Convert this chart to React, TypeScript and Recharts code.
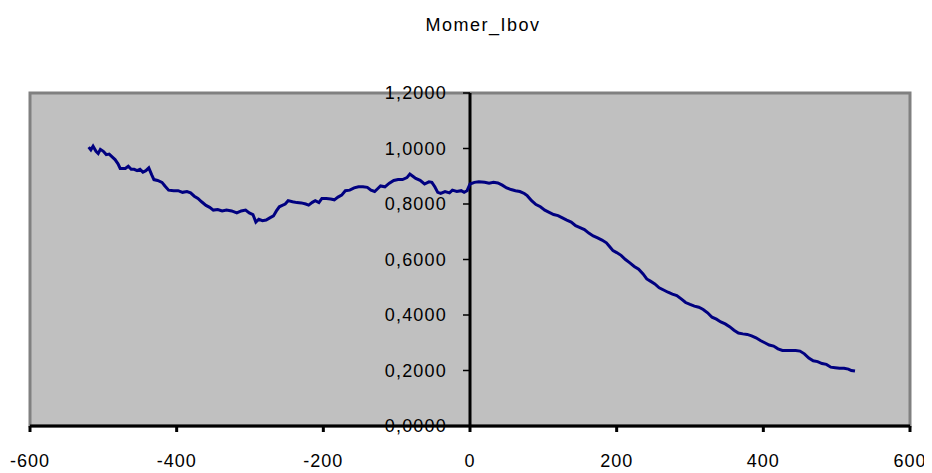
import { LineChart, Line, XAxis, YAxis, ReferenceArea, ReferenceLine } from "recharts";

const title = "Momer_Ibov";

const xTicks = [-600, -400, -200, 0, 200, 400, 600];
const yTicks = [0, 0.2, 0.4, 0.6, 0.8, 1.0, 1.2];

// days relative to event, and the index level
const days = [
  -520, -517, -514, -510, -507, -504, -500, -496, -492, -488, -484, -480, -477, -470, -466, -462,
  -458, -454, -450, -446, -442, -438, -434, -431, -426, -420, -416, -411, -404, -398, -392, -386,
  -381, -376, -371, -366, -360, -355, -350, -344, -338, -332, -325, -318, -312, -306, -301, -296,
  -292, -288, -283, -278, -273, -268, -264, -260, -256, -252, -248, -242, -236, -230, -224, -220,
  -215, -211, -206, -202, -196, -190, -185, -180, -175, -170, -164, -158, -152, -146, -140, -135,
  -130, -126, -122, -116, -110, -104, -98, -92, -86, -82, -78, -74, -68, -62, -56, -52,
  -48, -44, -40, -34, -28, -24, -18, -12, -8, -4, 0, 6, 12, 20, 26, 32,
  38, 44, 50, 56, 62, 68, 74, 78, 84, 90, 96, 102, 108, 114, 120, 126,
  132, 138, 144, 150, 156, 162, 168, 174, 180, 186, 190, 195, 200, 206, 212, 218,
  224, 230, 236, 241, 246, 252, 258, 264, 270, 276, 282, 288, 294, 300, 306, 312,
  318, 324, 330, 336, 342, 348, 354, 360, 366, 372, 378, 384, 390, 396, 402, 408,
  414, 420, 426, 432, 438, 444, 450, 456, 462, 468, 474, 480, 486, 492, 498, 504,
  510, 516, 520, 525,
];

const momer = [
  1.005, 0.995, 1.008, 0.99, 0.982, 0.997, 0.99, 0.978, 0.98, 0.97, 0.96, 0.945, 0.928, 0.928, 0.936, 0.925,
  0.925, 0.92, 0.925, 0.915, 0.92, 0.93, 0.905, 0.888, 0.885, 0.878, 0.865, 0.85, 0.848, 0.848, 0.842, 0.845,
  0.84, 0.828, 0.82, 0.808, 0.795, 0.788, 0.778, 0.78, 0.775, 0.778, 0.775, 0.768, 0.775, 0.778, 0.768, 0.762,
  0.735, 0.745, 0.74, 0.742, 0.75, 0.757, 0.775, 0.79, 0.795, 0.8, 0.812, 0.808, 0.805, 0.804, 0.8, 0.796,
  0.806, 0.812, 0.805, 0.82, 0.82, 0.818, 0.815, 0.825, 0.832, 0.848, 0.85, 0.858, 0.862, 0.862, 0.86, 0.85,
  0.845, 0.855, 0.865, 0.862, 0.875, 0.885, 0.888, 0.888, 0.895, 0.908, 0.9, 0.892, 0.885, 0.872, 0.88, 0.878,
  0.862, 0.842, 0.838, 0.845, 0.84, 0.85, 0.845, 0.848, 0.842, 0.848, 0.872, 0.878, 0.88, 0.878, 0.875, 0.878,
  0.876, 0.868, 0.858, 0.852, 0.848, 0.845, 0.838, 0.83, 0.812, 0.798, 0.79, 0.778, 0.77, 0.762, 0.758, 0.75,
  0.742, 0.735, 0.722, 0.715, 0.708, 0.695, 0.685, 0.678, 0.67, 0.66, 0.648, 0.632, 0.625, 0.615, 0.6, 0.588,
  0.575, 0.565, 0.548, 0.53, 0.522, 0.512, 0.498, 0.49, 0.482, 0.475, 0.47, 0.458, 0.445, 0.438, 0.432, 0.428,
  0.42, 0.408, 0.392, 0.385, 0.375, 0.368, 0.358, 0.345, 0.335, 0.332, 0.33, 0.325, 0.318, 0.308, 0.3, 0.292,
  0.288, 0.278, 0.272, 0.272, 0.272, 0.272, 0.27, 0.26, 0.245, 0.235, 0.232, 0.225, 0.222, 0.212, 0.21, 0.208,
  0.208, 0.205, 0.2, 0.198,
];

const data = days.map((d, i) => ({ x: d, y: momer[i] }));

const W = 920;
const H = 465;
const M = { top: 85, left: 21, right: 18, bottom: 17 };
const plotW = W - 22 - M.right;
const plotBottom = H - M.bottom - 30;
const zeroX = 22 + plotW / 2;
const font = "'Liberation Sans', Arial, sans-serif";

const fmt = (v: number) => v.toFixed(4).replace(".", ",");

function YTick(props: any) {
  const { y, payload } = props;
  return (
    <g>
      <line x1={zeroX - 7} x2={zeroX} y1={y} y2={y} stroke="#000" strokeWidth={1.5} />
      <text x={zeroX - 23} y={y} dy="0.36em" textAnchor="end" fontSize={18} letterSpacing={1.2} fill="#000" fontFamily={font}>
        {fmt(payload.value)}
      </text>
    </g>
  );
}

function XTick(props: any) {
  const { x, payload } = props;
  return (
    <text x={x} y={plotBottom + 35} dy="0.36em" textAnchor="middle" fontSize={18} letterSpacing={1} fill="#000" fontFamily={font}>
      {payload.value}
    </text>
  );
}

export default function App() {
  return (
    <div style={{ position: "relative", width: W, height: H }}>
      <div
        style={{
          position: "absolute",
          left: 0,
          top: 7,
          width: 950,
          textAlign: "center",
          fontFamily: font,
          fontSize: 18,
          letterSpacing: 1.5,
        }}
      >
        {title}
      </div>
      <LineChart width={W} height={H} data={data} margin={M}>
        <ReferenceArea x1={-600} x2={600} y1={0} y2={1.2} fill="#c0c0c0" fillOpacity={1} stroke="#808080" strokeWidth={3} />
        <ReferenceLine x={0} stroke="#000" strokeWidth={3} />
        <XAxis
          dataKey="x"
          type="number"
          domain={[-600, 600]}
          ticks={xTicks}
          height={30}
          axisLine={{ stroke: "#000", strokeWidth: 3 }}
          tickLine={{ stroke: "#000", strokeWidth: 3 }}
          tickSize={6}
          tick={<XTick />}
          interval={0}
        />
        <YAxis
          type="number"
          domain={[0, 1.2]}
          ticks={yTicks}
          width={1}
          axisLine={false}
          tickLine={false}
          tick={<YTick />}
          interval={0}
        />
        <Line dataKey="y" type="linear" stroke="#000080" strokeWidth={3} dot={false} isAnimationActive={false} />
      </LineChart>
    </div>
  );
}
